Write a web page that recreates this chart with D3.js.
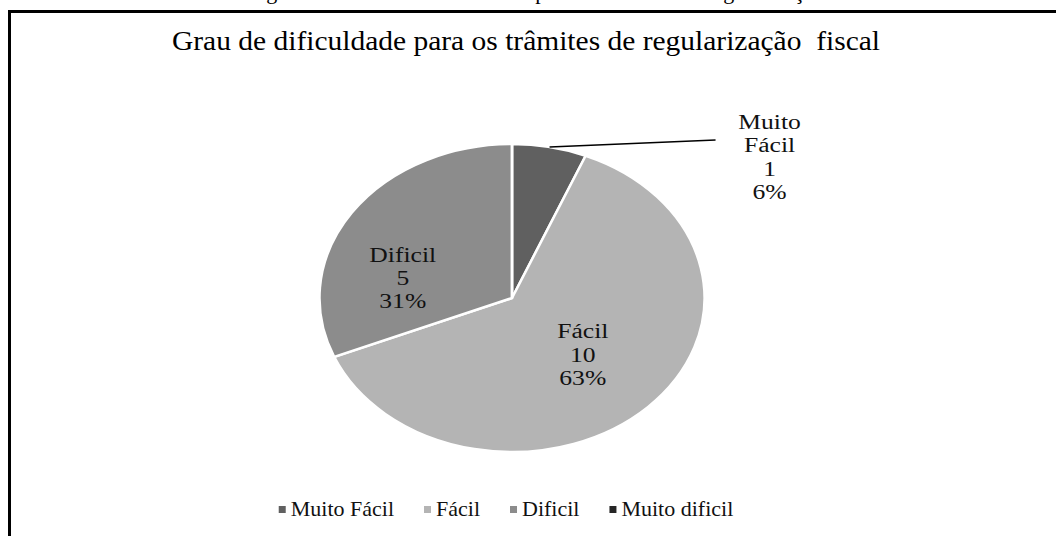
<!DOCTYPE html>
<html><head><meta charset="utf-8">
<script src="https://cdn.jsdelivr.net/npm/d3@7"></script>
<style>html,body{margin:0;padding:0;background:#fff;}svg{display:block;}</style>
</head><body>
<script>
const categories = ["Muito Fácil", "Fácil", "Dificil", "Muito dificil"];
const values = [1, 10, 5, 0];
const percentLabels = ["6%", "63%", "31%", "0%"];
const colors = ["#606060", "#b4b4b4", "#8c8c8c", "#262626"];
const title = "Grau de dificuldade para os trâmites de regularização\u00a0 fiscal";
const caption = "Figura 10 – Grau de dificuldade para os trâmites de regularização fiscal";

const W = 1056, H = 536;
const svg = d3.select("body").append("svg").attr("width", W).attr("height", H);
svg.append("rect").attr("width", W).attr("height", H).attr("fill", "#fff");

const serif = "'Liberation Serif','Times New Roman',serif";

// caption cut off at the top (only descenders visible, as in the reference)
svg.append("text").attr("x", 248).attr("y", -1)
  .attr("font-family", serif).attr("font-size", 22).attr("fill", "#000")
  .text(caption);

// frame
svg.append("rect").attr("x", 9.5).attr("y", 11.5).attr("width", 1100).attr("height", 600)
  .attr("fill", "none").attr("stroke", "#000").attr("stroke-width", 3);

// title
svg.append("text").attr("x", 526).attr("y", 50).attr("text-anchor", "middle")
  .attr("font-family", serif).attr("font-size", 27).attr("fill", "#000")
  .attr("textLength", 708).attr("lengthAdjust", "spacingAndGlyphs")
  .text(title);

// pie (stretched horizontally like the reference)
const cx = 512, cy = 298, r = 154, sx = 1.25;
const pie = d3.pie().sort(null).value(d => d)(values);
const arc = d3.arc().innerRadius(0).outerRadius(r);
const g = svg.append("g").attr("transform", `translate(${cx},${cy}) scale(${sx},1)`);
g.selectAll("path").data(pie).join("path")
  .attr("d", arc)
  .attr("fill", (d, i) => colors[i])
  .attr("stroke", "#fff").attr("stroke-width", 2.5)
  .attr("vector-effect", "non-scaling-stroke");

// labels
const labelArc = d3.arc().innerRadius(r * 0.52).outerRadius(r * 0.52);
const lineH = 23.5;
function labelBlock(x, y, lines) {
  const t = svg.append("text")
    .attr("transform", `translate(${x},${y}) scale(1.28,1)`)
    .attr("text-anchor", "middle").attr("font-family", serif)
    .attr("font-size", 20).attr("fill", "#111");
  lines.forEach((s, k) => {
    t.append("tspan").attr("x", 0).attr("y", (k - (lines.length - 1) / 2) * lineH + 7).text(s);
  });
}
pie.forEach((d, i) => {
  if (values[i] === 0) return;
  if (i === 0) {
    // outside label with leader line
    const mid = (d.startAngle + d.endAngle) / 2;
    const ex = cx + Math.sin(mid) * r * sx, ey = cy - Math.cos(mid) * r;
    const lx = ex + 166, ly = ey - 7;
    svg.append("line").attr("x1", ex).attr("y1", ey).attr("x2", lx).attr("y2", ly)
      .attr("stroke", "#000").attr("stroke-width", 1.5);
    labelBlock(lx + 54, ly + 17, ["Muito", "Fácil", String(values[i]), percentLabels[i]]);
  } else {
    const c = labelArc.centroid(d);
    let x = cx + c[0] * sx, y = cy + c[1];
    if (i === 2) { x -= 26; y += 24.5; }
    labelBlock(x, y, [categories[i], String(values[i]), percentLabels[i]]);
  }
});

// legend
const legend = svg.append("g");
let xpos = 0;
categories.forEach((c, i) => {
  const it = legend.append("g");
  it.append("rect").attr("x", 0).attr("y", -10).attr("width", 7).attr("height", 7).attr("fill", colors[i]);
  const tx = it.append("text").attr("x", 12).attr("y", 0)
    .attr("font-family", serif).attr("font-size", 22).attr("fill", "#111").text(c);
  const w = 12 + tx.node().getComputedTextLength();
  it.attr("transform", `translate(${xpos},0)`);
  xpos += w + 30;
});
const totalW = xpos - 30;
legend.attr("transform", `translate(${506 - totalW / 2},516)`);
</script>
</body></html>
